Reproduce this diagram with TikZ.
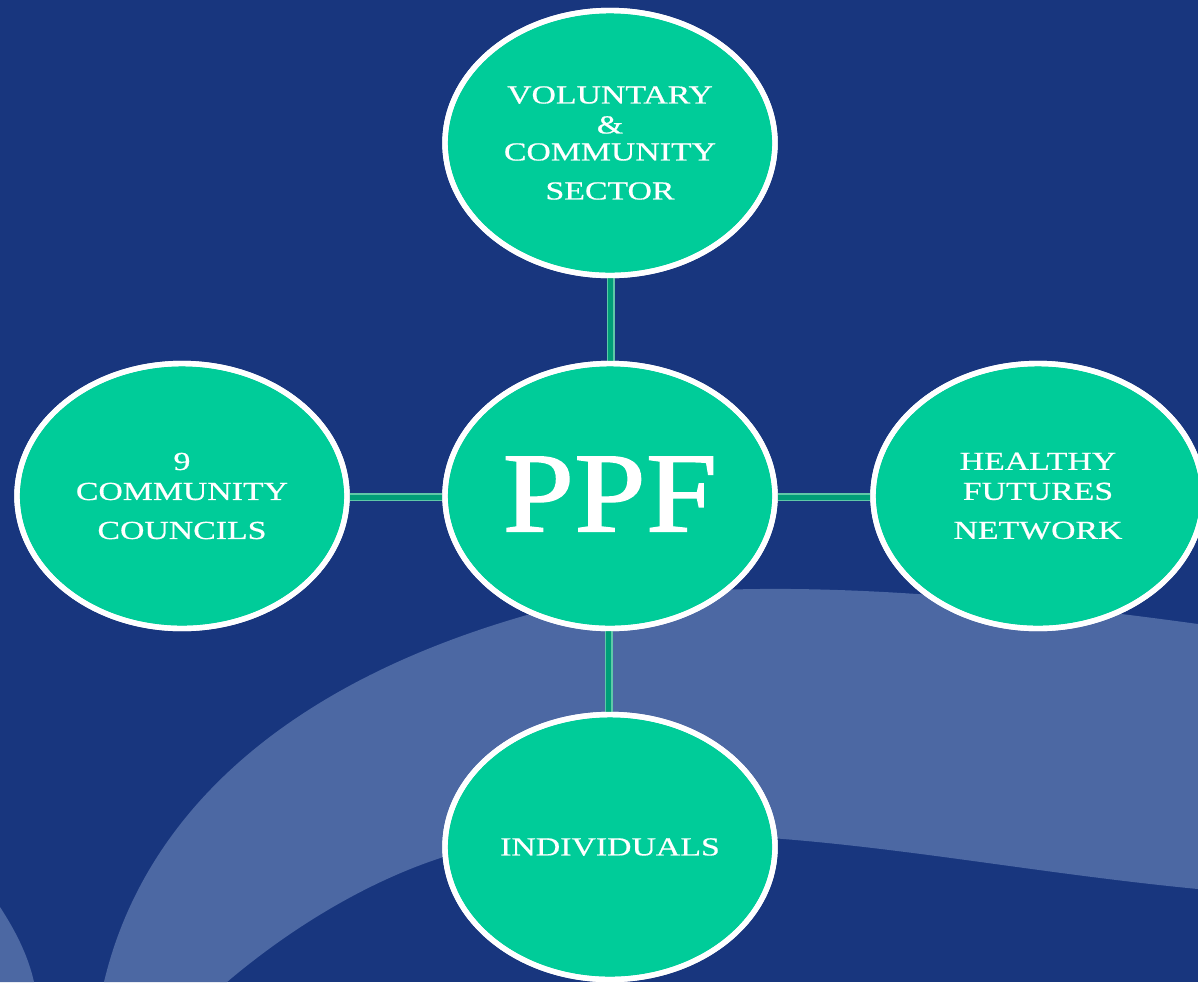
\documentclass[tikz,border=0pt]{standalone}
\usepackage{fontspec}
\setmainfont{Liberation Serif}
\newfontfamily\widefont[FakeStretch=1.3,FakeBold=0.6]{Liberation Serif}
\newfontfamily\ppffont[FakeStretch=1.13,FakeBold=1.2]{Liberation Serif}
\usetikzlibrary{shapes.geometric}
\definecolor{bgblue}{HTML}{18367E}
\definecolor{bandblue}{HTML}{4C68A3}
\definecolor{nodegreen}{HTML}{00CC99}
\definecolor{linkdark}{HTML}{009E78}
\definecolor{linklight}{HTML}{5FC8A8}
\tikzset{
  bubble/.style={ellipse, draw=white, line width=2.7pt, fill=nodegreen,
    minimum width=165pt, minimum height=132.5pt, inner sep=0pt},
  label text/.style={text=white, align=center, font=\widefont\fontsize{13}{14}\selectfont},
  linkouter/.style={draw=linklight, line width=4pt},
  linkinner/.style={draw=linkdark, line width=2.5pt},
}
\begin{document}
\begin{tikzpicture}[x=0.5pt,y=-0.5pt]
\useasboundingbox (0,0) rectangle (1198,982);
\clip (0,0) rectangle (1198,982);
\fill[bgblue] (0,0) rectangle (1198,982);
% background swooshes
\fill[bandblue] (104,982) .. controls (140,830) and (265,690) .. (527,615)
  .. controls (700,570) and (950,590) .. (1198,624) -- (1198,889)
  .. controls (950,865) and (750,812) .. (500,843)
  .. controls (400,860) and (300,920) .. (227,982) -- cycle;
\fill[bandblue] (0,907) .. controls (15,930) and (28,955) .. (34,982) -- (0,982) -- cycle;
% node positions
\coordinate (ptop) at (610,143);
\coordinate (pmid) at (610,496);
\coordinate (pleft) at (182,496);
\coordinate (pright) at (1038,496);
\coordinate (pbot) at (610,847);
% bubbles
\node[bubble] (top) at (ptop) {};
\node[bubble] (mid) at (pmid) {};
\node[bubble] (left) at (pleft) {};
\node[bubble] (right) at (pright) {};
\node[bubble] (bot) at (pbot) {};
% connectors
\draw[linkouter] ([xshift=0.5pt]top.south) -- ([xshift=0.5pt]mid.north);
\draw[linkinner] (top.south) -- (mid.north);
\draw[linkouter] ([xshift=-0.5pt]mid.south) -- ([xshift=-0.5pt]bot.north);
\draw[linkinner] ([xshift=-1pt]mid.south) -- ([xshift=-1pt]bot.north);
\draw[linkouter] ([yshift=-0.5pt]left.east) -- ([yshift=-0.5pt]mid.west);
\draw[linkinner] ([yshift=-0.5pt]left.east) -- ([yshift=-0.5pt]mid.west);
\draw[linkouter] ([yshift=-0.5pt]mid.east) -- ([yshift=-0.5pt]right.west);
\draw[linkinner] ([yshift=-0.5pt]mid.east) -- ([yshift=-0.5pt]right.west);
% redraw bubble borders over connector ends
\foreach \n in {top,mid,left,right,bot}{
  \draw[white, line width=2.7pt] (\n.center) ellipse [x radius=82.5pt, y radius=66.25pt];
}
% texts
\node[label text] (ttop) at (ptop) {VOLUNTARY\\[1pt]\&\\[-0.5pt]COMMUNITY\\[5.5pt]SECTOR};
\node[label text] (tleft) at (pleft) {9\\[1pt]COMMUNITY\\[5.5pt]COUNCILS};
\node[label text] (tright) at (pright) {HEALTHY\\[1pt]FUTURES\\[5.5pt]NETWORK};
\node[label text] (tbot) at (pbot) {INDIVIDUALS};
\node[text=white, font=\ppffont\fontsize{57}{57}\selectfont] (tmid) at (610,494) {PPF};
\end{tikzpicture}
\end{document}
